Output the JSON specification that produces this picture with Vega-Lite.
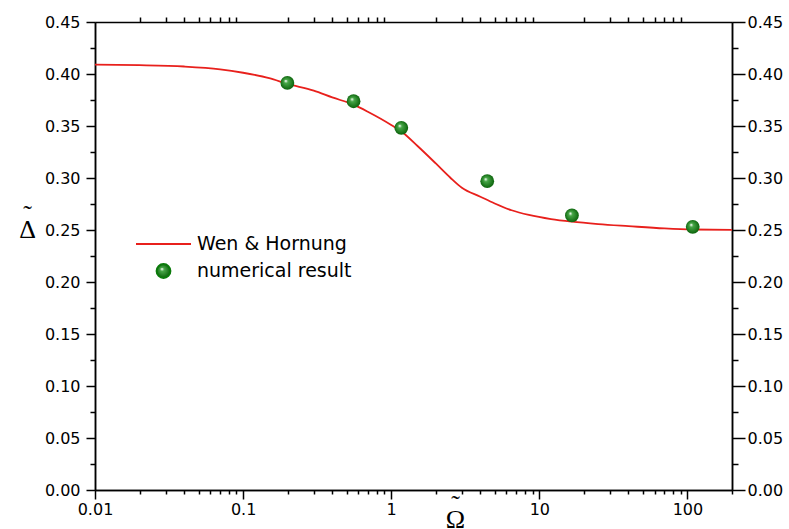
{
  "$schema": "https://vega.github.io/schema/vega-lite/v6.json",
  "width": 637,
  "height": 468,
  "autosize": {"type": "none"},
  "padding": {"left": 95, "top": 22, "right": 57, "bottom": 39},
  "background": "white",
  "config": {
    "view": {"stroke": null},
    "axis": {
      "grid": false,
      "domainColor": "black",
      "domainWidth": 1.5,
      "tickColor": "black",
      "tickWidth": 1.5,
      "labelColor": "black",
      "labelFont": "DejaVu Sans",
      "labelFontSize": 16,
      "labelFlush": false,
      "titleColor": "black"
    }
  },
  "datasets": {
    "curve": [
      {"x": 0.01, "y": 0.409, "series": "Wen & Hornung"},
      {"x": 0.02, "y": 0.4085, "series": "Wen & Hornung"},
      {"x": 0.04, "y": 0.4072, "series": "Wen & Hornung"},
      {"x": 0.07, "y": 0.4045, "series": "Wen & Hornung"},
      {"x": 0.1, "y": 0.4012, "series": "Wen & Hornung"},
      {"x": 0.15, "y": 0.396, "series": "Wen & Hornung"},
      {"x": 0.2, "y": 0.3905, "series": "Wen & Hornung"},
      {"x": 0.3, "y": 0.384, "series": "Wen & Hornung"},
      {"x": 0.4, "y": 0.3775, "series": "Wen & Hornung"},
      {"x": 0.557, "y": 0.3705, "series": "Wen & Hornung"},
      {"x": 0.7, "y": 0.3635, "series": "Wen & Hornung"},
      {"x": 1.0, "y": 0.351, "series": "Wen & Hornung"},
      {"x": 1.2, "y": 0.3435, "series": "Wen & Hornung"},
      {"x": 1.5, "y": 0.331, "series": "Wen & Hornung"},
      {"x": 2.0, "y": 0.314, "series": "Wen & Hornung"},
      {"x": 2.5, "y": 0.3005, "series": "Wen & Hornung"},
      {"x": 3.0, "y": 0.2906, "series": "Wen & Hornung"},
      {"x": 4.0, "y": 0.282, "series": "Wen & Hornung"},
      {"x": 5.0, "y": 0.2755, "series": "Wen & Hornung"},
      {"x": 6.5, "y": 0.269, "series": "Wen & Hornung"},
      {"x": 8.5, "y": 0.2645, "series": "Wen & Hornung"},
      {"x": 12, "y": 0.2605, "series": "Wen & Hornung"},
      {"x": 16.6, "y": 0.258, "series": "Wen & Hornung"},
      {"x": 25, "y": 0.2557, "series": "Wen & Hornung"},
      {"x": 40, "y": 0.2537, "series": "Wen & Hornung"},
      {"x": 70, "y": 0.2515, "series": "Wen & Hornung"},
      {"x": 108, "y": 0.2505, "series": "Wen & Hornung"},
      {"x": 200, "y": 0.2502, "series": "Wen & Hornung"}
    ],
    "points": [
      {"x": 0.199, "y": 0.3914},
      {"x": 0.557, "y": 0.3738},
      {"x": 1.17, "y": 0.3483},
      {"x": 4.45, "y": 0.2969},
      {"x": 16.6, "y": 0.264},
      {"x": 108.6, "y": 0.2531}
    ]
  },
  "layer": [
    {
      "data": {"name": "curve"},
      "mark": {"type": "line", "strokeWidth": 1.8, "interpolate": "monotone"},
      "encoding": {
        "x": {
          "field": "x", "type": "quantitative",
          "scale": {"type": "log", "domain": [0.01, 200], "nice": false},
          "axis": {
            "orient": "bottom",
            "values": [0.01, 0.1, 1, 10, 100],
            "labelExpr": "toString(datum.value)",
            "tickSize": 9,
            "labelPadding": 2,
            "title": ["˜", "Ω"],
            "titleFont": "Liberation Serif",
            "titleFontSize": 26,
            "titleFontWeight": "normal",
            "titleLineHeight": 15,
            "titleX": 360,
            "titleY": 27,
            "titleAlign": "center",
            "titleBaseline": "bottom"
          }
        },
        "y": {
          "field": "y", "type": "quantitative",
          "scale": {"domain": [0, 0.45], "nice": false, "zero": false},
          "axis": {
            "orient": "left",
            "values": [0, 0.05, 0.1, 0.15, 0.2, 0.25, 0.3, 0.35, 0.4, 0.45],
            "format": ".2f",
            "tickSize": 9,
            "labelPadding": 6,
            "title": ["˜", "Δ"],
            "titleFont": "Liberation Serif",
            "titleFontSize": 26,
            "titleFontWeight": "normal",
            "titleLineHeight": 15,
            "titleAngle": 0,
            "titleX": -68,
            "titleY": 205,
            "titleAlign": "center",
            "titleBaseline": "bottom"
          }
        },
        "color": {
          "field": "series", "type": "nominal",
          "scale": {"domain": ["Wen & Hornung", "numerical result"], "range": ["#e8201c", "#0a7a0a"]},
          "legend": {
            "orient": "none",
            "legendX": 40,
            "legendY": 211,
            "title": null,
            "padding": 0,
            "symbolSize": 3025,
            "clipHeight": 22,
            "rowPadding": 5,
            "labelFont": "DejaVu Sans",
            "labelFontSize": 19,
            "labelColor": "black",
            "labelOffset": 5,
            "encode": {
              "symbols": {
                "update": {
                  "shape": {"signal": "datum.value === 'numerical result' ? 'circle' : 'stroke'"},
                  "size": {"signal": "datum.value === 'numerical result' ? 190 : 3025"},
                  "fill": [
                    {"test": "datum.value === 'numerical result'", "value": {
                      "gradient": "radial",
                      "x1": 0.38, "y1": 0.35, "r1": 0.02,
                      "x2": 0.5, "y2": 0.5, "r2": 0.55,
                      "stops": [
                        {"offset": 0, "color": "#ffffff"},
                        {"offset": 0.22, "color": "#48a848"},
                        {"offset": 1, "color": "#055c05"}
                      ]
                    }},
                    {"value": "transparent"}
                  ],
                  "stroke": [
                    {"test": "datum.value === 'numerical result'", "value": "transparent"},
                    {"value": "#e8201c"}
                  ],
                  "strokeWidth": {"value": 2},
                  "opacity": {"value": 1}
                }
              }
            }
          }
        }
      }
    },
    {
      "data": {"name": "points"},
      "mark": {
        "type": "point", "filled": true, "size": 190, "opacity": 1, "strokeWidth": 0,
        "color": {
          "gradient": "radial",
          "x1": 0.38, "y1": 0.35, "r1": 0.02,
          "x2": 0.5, "y2": 0.5, "r2": 0.55,
          "stops": [
            {"offset": 0, "color": "#ffffff"},
            {"offset": 0.22, "color": "#48a848"},
            {"offset": 1, "color": "#055c05"}
          ]
        }
      },
      "encoding": {
        "x": {
          "field": "x", "type": "quantitative",
          "axis": {
            "orient": "bottom",
            "values": [0.02, 0.03, 0.04, 0.05, 0.06, 0.07, 0.08, 0.09, 0.2, 0.3, 0.4, 0.5, 0.6, 0.7, 0.8, 0.9, 2, 3, 4, 5, 6, 7, 8, 9, 20, 30, 40, 50, 60, 70, 80, 90, 200],
            "labels": false, "tickSize": 4, "title": null
          }
        },
        "y": {
          "field": "y", "type": "quantitative",
          "axis": {
            "orient": "left",
            "values": [0.025, 0.075, 0.125, 0.175, 0.225, 0.275, 0.325, 0.375, 0.425],
            "labels": false, "tickSize": 5, "title": null
          }
        }
      }
    },
    {
      "data": {"name": "curve"},
      "mark": {"type": "line", "strokeOpacity": 0},
      "encoding": {
        "x": {
          "field": "x", "type": "quantitative",
          "axis": {
            "orient": "top",
            "values": [0.02, 0.03, 0.04, 0.05, 0.06, 0.07, 0.08, 0.09, 0.2, 0.3, 0.4, 0.5, 0.6, 0.7, 0.8, 0.9, 2, 3, 4, 5, 6, 7, 8, 9, 20, 30, 40, 50, 60, 70, 80, 90],
            "labels": false, "tickSize": 5, "title": null
          }
        },
        "y": {
          "field": "y", "type": "quantitative",
          "axis": {
            "orient": "right",
            "values": [0, 0.05, 0.1, 0.15, 0.2, 0.25, 0.3, 0.35, 0.4, 0.45],
            "format": ".2f",
            "tickSize": 13,
            "labelPadding": 2,
            "title": null
          }
        }
      }
    },
    {
      "data": {"name": "curve"},
      "mark": {"type": "line", "strokeOpacity": 0},
      "encoding": {
        "x": {"field": "x", "type": "quantitative", "axis": null},
        "y": {
          "field": "y", "type": "quantitative",
          "axis": {
            "orient": "right",
            "values": [0.025, 0.075, 0.125, 0.175, 0.225, 0.275, 0.325, 0.375, 0.425],
            "labels": false, "tickSize": 6, "title": null
          }
        }
      }
    }
  ],
  "resolve": {"axis": {"x": "independent", "y": "independent"}}
}
